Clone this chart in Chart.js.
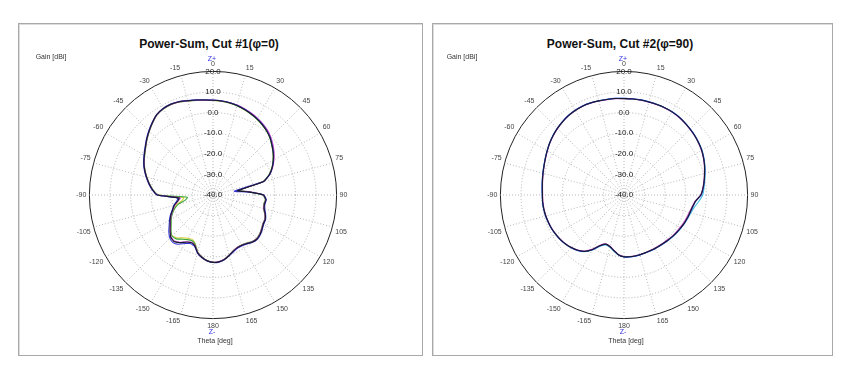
<!DOCTYPE html>
<html>
<head>
<meta charset="utf-8">
<script src="https://cdn.jsdelivr.net/npm/chart.js@4.4.1/dist/chart.umd.min.js"></script>
<style>
  body { margin: 0; width: 862px; height: 366px; background: #fff; position: relative; overflow: hidden;
         font-family: Arial, "Liberation Sans", sans-serif; }
  .panel { position: absolute; top: 23px; height: 331px; border: 1px solid #a8a8a8; box-shadow: inset 1px 1px 0 #dcdcdc; background: #fff; }
  .txt { position: absolute; white-space: nowrap; transform: translate(-50%, -50%); color: #222; }
  .title { font-size: 12px; font-weight: bold; color: #111; }
  .small { font-size: 7px; color: #333; }
  .zaxis { font-size: 7px; color: #3030e0; }
  canvas { position: absolute; }
</style>
</head>
<body>
<div class="panel" style="left:18px; width:403px;"></div>
<div class="panel" style="left:432px; width:399px;"></div>

<canvas id="cut1" width="330" height="270" style="left:48px; top:60px;"></canvas>
<canvas id="cut2" width="330" height="270" style="left:459px; top:60px;"></canvas>

<div class="txt title" style="left:209px; top:44px;">Power-Sum, Cut #1(φ=0)</div>
<div class="txt small" style="left:51px; top:56px;">Gain [dBi]</div>
<div class="txt zaxis" style="left:212px; top:58px;">Z+</div>
<div class="txt zaxis" style="left:212px; top:331px;">Z-</div>
<div class="txt small" style="left:215px; top:340px;">Theta [deg]</div>

<div class="txt title" style="left:620px; top:44px;">Power-Sum, Cut #2(φ=90)</div>
<div class="txt small" style="left:462px; top:56px;">Gain [dBi]</div>
<div class="txt zaxis" style="left:623px; top:58px;">Z+</div>
<div class="txt zaxis" style="left:623px; top:331px;">Z-</div>
<div class="txt small" style="left:626px; top:340px;">Theta [deg]</div>

<script>
// theta in degrees, 5 deg steps, clockwise from Z+ (top)
const thetaLabels = ['0','5','10','15','20','25','30','35','40','45','50','55','60','65','70','75','80','85',
  '90','95','100','105','110','115','120','125','130','135','140','145','150','155','160','165','170','175',
  '180','-175','-170','-165','-160','-155','-150','-145','-140','-135','-130','-125','-120','-115','-110','-105',
  '-100','-95','-90','-85','-80','-75','-70','-65','-60','-55','-50','-45','-40','-35','-30','-25','-20','-15','-10','-5'];

const gainTicks = [-40, -30, -20, -10, 0, 10, 20];

// Cut #1 (phi=0), gain in dBi
const cut1Black = [6.0,5.8,5.5,5.0,4.3,3.5,2.7,1.7,0.6,-0.8,-2.6,-4.3,-6.2,-8.3,-10.8,-14.5,-28.0,-22.5,
  -15.5,-14.2,-14.6,-14.3,-13.0,-12.0,-11.8,-11.0,-10.2,-9.8,-10.2,-11.2,-11.8,-11.8,-11.0,-9.6,-8.2,-7.4,
  -7.3,-7.9,-9.2,-11.0,-14.0,-14.6,-13.5,-11.8,-10.5,-11.0,-12.8,-14.6,-16.0,-17.5,-19.2,-20.5,
  -22.5,-23.5,-13.0,-10.5,-8.5,-6.6,-4.7,-3.0,-1.5,0.1,2.0,3.9,5.8,7.6,8.4,8.6,8.2,7.4,6.8,6.3];
const cut1Blue = [6.1,5.9,5.6,5.1,4.4,3.6,2.8,1.8,0.7,-0.7,-2.5,-4.2,-6.1,-8.2,-10.7,-14.6,-29.5,-23.5,
  -15.3,-14.0,-14.4,-14.0,-12.8,-11.8,-11.6,-10.8,-10.0,-9.6,-10.0,-11.0,-11.6,-11.6,-10.8,-9.5,-8.1,-7.3,
  -7.2,-7.8,-9.0,-10.8,-13.6,-14.0,-12.8,-10.8,-9.8,-10.4,-12.0,-14.0,-15.6,-17.2,-19.0,-20.2,
  -22.0,-23.0,-12.8,-10.3,-8.3,-6.4,-4.5,-2.8,-1.3,0.3,2.2,4.1,6.0,7.7,8.5,8.7,8.3,7.5,6.9,6.4];
const cut1Magenta = [6.0,5.8,5.6,5.2,4.6,3.9,3.1,2.2,1.1,-0.3,-2.0,-3.8,-5.8,-8.0,-10.6,-14.4,-27.5,-22.0,
  -15.6,-14.3,-14.8,-14.5,-13.2,-12.2,-12.0,-11.2,-10.4,-10.0,-10.4,-11.4,-12.0,-12.0,-11.2,-9.8,-8.4,-7.6,
  -7.4,-8.0,-9.4,-11.2,-14.2,-14.8,-13.8,-12.0,-10.8,-11.2,-13.0,-14.8,-16.2,-17.8,-19.4,-20.8,
  -22.8,-24.0,-13.2,-10.6,-8.6,-6.7,-4.8,-3.1,-1.6,0.0,1.9,3.8,5.7,7.5,8.3,8.5,8.1,7.3,6.7,6.2];
const cut1Green = [5.9,5.7,5.4,4.9,4.2,3.4,2.6,1.6,0.5,-0.9,-2.7,-4.4,-6.3,-8.4,-11.0,-14.8,-27.0,-22.8,
  -15.8,-14.5,-15.0,-14.6,-13.3,-12.3,-12.1,-11.3,-10.5,-10.1,-10.5,-11.5,-12.1,-12.0,-11.2,-9.8,-8.4,-7.5,
  -7.4,-8.1,-9.5,-11.4,-14.6,-15.6,-15.0,-13.8,-12.2,-11.8,-13.4,-15.2,-16.6,-18.2,-20.0,-22.5,
  -26.5,-27.5,-13.6,-10.8,-8.7,-6.8,-4.9,-3.2,-1.7,-0.1,1.8,3.7,5.6,7.4,8.2,8.4,8.0,7.2,6.6,6.1];
const cut1Yellow = [5.9,5.7,5.4,4.9,4.2,3.4,2.6,1.6,0.5,-0.9,-2.7,-4.4,-6.3,-8.4,-11.0,-14.8,-27.2,-22.6,
  -15.7,-14.4,-14.9,-14.5,-13.2,-12.2,-12.0,-11.2,-10.4,-10.0,-10.4,-11.4,-12.0,-12.0,-11.2,-9.8,-8.4,-7.5,
  -7.4,-8.0,-9.4,-11.3,-14.8,-16.2,-15.8,-14.6,-12.8,-12.0,-13.2,-15.0,-16.4,-18.0,-19.8,-21.8,
  -24.8,-25.8,-13.4,-10.7,-8.6,-6.7,-4.8,-3.1,-1.6,0.0,1.9,3.8,5.7,7.5,8.3,8.5,8.1,7.3,6.7,6.2];

// Cut #2 (phi=90), gain in dBi
const cut2Black = [6.8,6.8,6.8,6.7,6.7,6.7,6.6,6.3,5.8,5.3,4.8,4.2,3.5,2.6,1.6,0.5,-0.5,-1.5,
  -2.7,-5.2,-6.3,-6.9,-7.3,-7.7,-8.2,-8.6,-9.0,-9.4,-9.7,-9.9,-10.0,-10.1,-10.1,-10.0,-9.9,-9.9,
  -10.0,-10.8,-12.5,-14.0,-14.6,-13.0,-9.5,-6.6,-5.0,-3.9,-3.0,-2.3,-1.8,-1.3,-1.0,-0.7,
  -0.5,-0.4,-0.4,-0.2,0.2,0.7,1.3,2.1,3.0,4.0,4.9,5.7,6.4,7.0,7.4,7.6,7.5,7.3,7.1,7.0];
const cut2Blue = [6.9,6.9,6.9,6.8,6.8,6.8,6.7,6.4,5.9,5.4,4.9,4.3,3.6,2.7,1.7,0.6,-0.4,-1.4,
  -2.5,-5.0,-6.1,-6.8,-7.2,-7.6,-8.1,-8.5,-8.9,-9.3,-9.6,-9.8,-9.9,-10.0,-10.0,-9.9,-9.8,-9.8,
  -9.9,-10.7,-12.4,-13.9,-14.4,-12.8,-9.3,-6.5,-4.9,-3.8,-2.9,-2.2,-1.7,-1.2,-0.9,-0.6,
  -0.4,-0.3,-0.3,-0.1,0.3,0.8,1.4,2.2,3.1,4.1,5.0,5.8,6.5,7.1,7.5,7.7,7.6,7.4,7.2,7.1];
const cut2Cyan = [6.9,6.9,6.9,6.9,6.9,6.8,6.7,6.4,5.9,5.4,4.9,4.3,3.7,2.8,1.8,0.8,-0.2,-1.0,
  -1.8,-3.6,-5.4,-6.4,-7.0,-7.5,-8.0,-8.4,-8.8,-9.2,-9.5,-9.8,-9.9,-10.0,-10.0,-9.9,-9.8,-9.8,
  -9.9,-10.6,-12.2,-13.7,-14.2,-12.6,-9.2,-6.4,-4.8,-3.7,-2.9,-2.2,-1.7,-1.2,-0.9,-0.6,
  -0.4,-0.3,-0.3,-0.1,0.3,0.8,1.4,2.2,3.1,4.1,5.0,5.8,6.5,7.1,7.5,7.7,7.6,7.4,7.2,7.1];
const cut2Magenta = [6.8,6.8,6.7,6.6,6.6,6.6,6.5,6.2,5.7,5.2,4.7,4.1,3.4,2.5,1.5,0.4,-0.6,-1.6,
  -2.8,-5.4,-6.5,-7.2,-7.7,-8.1,-8.6,-8.9,-9.2,-9.6,-9.9,-10.1,-10.2,-10.3,-10.2,-10.1,-10.0,-10.0,
  -10.1,-10.9,-12.6,-14.1,-14.7,-13.2,-9.7,-6.8,-5.1,-4.0,-3.1,-2.4,-1.9,-1.4,-1.1,-0.8,
  -0.6,-0.5,-0.5,-0.3,0.1,0.6,1.2,2.0,2.9,3.9,4.8,5.6,6.3,6.9,7.3,7.5,7.4,7.2,7.0,6.9];

function lineSet(data, color) {
  return {
    data: data,
    borderColor: color,
    backgroundColor: 'transparent',
    borderWidth: 1.1,
    fill: false,
    pointRadius: 0,
    tension: 0.15
  };
}

function polarOptions() {
  const last = gainTicks.length - 1;
  return {
    responsive: false,
    animation: false,
    layout: { padding: 0 },
    plugins: { legend: { display: false }, tooltip: { enabled: false } },
    scales: {
      r: {
        min: gainTicks[0],
        max: gainTicks[last],
        startAngle: 0,
        afterBuildTicks: (scale) => {
          scale.ticks = gainTicks.map(v => ({ value: v }));
        },
        ticks: {
          stepSize: 10,
          color: '#222',
          font: { size: 8, family: 'Arial, "Liberation Sans", sans-serif' },
          showLabelBackdrop: false,
          backdropPadding: 0,
          callback: (v) => Number(v).toFixed(1)
        },
        grid: {
          circular: true,
          color: (ctx) => ctx.index === last ? '#222' : '#b0b0b0',
          lineWidth: 1
        },
        border: {
          dash: (ctx) => ctx.index === last ? [] : [1, 2]
        },
        angleLines: {
          color: (ctx) => ctx.index % 3 === 0 ? '#b8b8b8' : 'transparent',
          lineWidth: (ctx) => ctx.index % 3 === 0 ? 1 : 0,
          borderDash: [1, 2]
        },
        pointLabels: {
          padding: -1,
          color: '#444',
          font: { size: 7, family: 'Arial, "Liberation Sans", sans-serif' },
          callback: (label, index) => index % 3 === 0 ? label : ''
        }
      }
    }
  };
}

new Chart(document.getElementById('cut1'), {
  type: 'radar',
  data: {
    labels: thetaLabels,
    datasets: [
      lineSet(cut1Black, '#1a1a2e'),
      lineSet(cut1Blue, '#3535d8'),
      lineSet(cut1Magenta, '#c845c8'),
      lineSet(cut1Green, '#3aa83a'),
      lineSet(cut1Yellow, '#d8d040')
    ]
  },
  options: polarOptions()
});

new Chart(document.getElementById('cut2'), {
  type: 'radar',
  data: {
    labels: thetaLabels,
    datasets: [
      lineSet(cut2Black, '#1a1a2e'),
      lineSet(cut2Blue, '#3535d8'),
      lineSet(cut2Cyan, '#45c0e0'),
      lineSet(cut2Magenta, '#c845c8')
    ]
  },
  options: polarOptions()
});
</script>
</body>
</html>
